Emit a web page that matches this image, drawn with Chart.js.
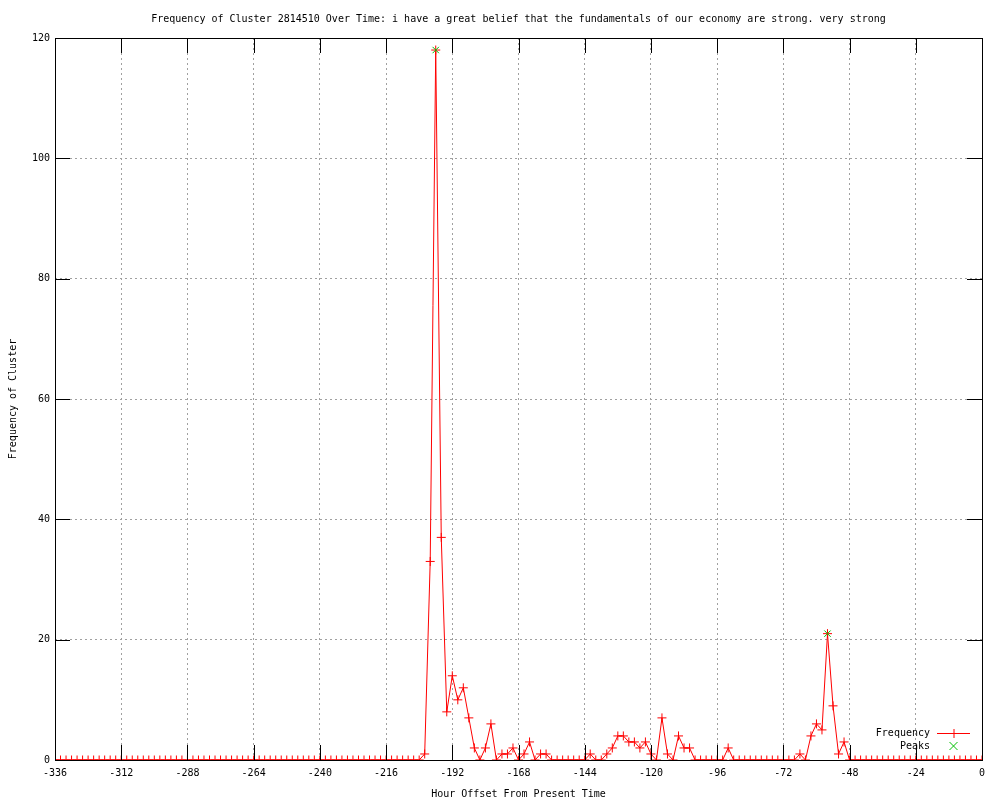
<!DOCTYPE html>
<html>
<head>
<meta charset="utf-8">
<script src="https://cdn.jsdelivr.net/npm/chart.js@4/dist/chart.umd.min.js"></script>
<style>
  html, body { margin: 0; padding: 0; background: #fff; }
  #wrap { width: 1000px; height: 800px; }
</style>
</head>
<body>
<div id="wrap"><canvas id="chart" width="1000" height="800"></canvas></div>
<script>
// hour offsets, one point every 2 hours
const hours = [
  -336, -334, -332, -330, -328, -326, -324, -322, -320, -318, -316, -314,
  -312, -310, -308, -306, -304, -302, -300, -298, -296, -294, -292, -290,
  -288, -286, -284, -282, -280, -278, -276, -274, -272, -270, -268, -266,
  -264, -262, -260, -258, -256, -254, -252, -250, -248, -246, -244, -242,
  -240, -238, -236, -234, -232, -230, -228, -226, -224, -222, -220, -218,
  -216, -214, -212, -210, -208, -206, -204, -202, -200, -198, -196, -194,
  -192, -190, -188, -186, -184, -182, -180, -178, -176, -174, -172, -170,
  -168, -166, -164, -162, -160, -158, -156, -154, -152, -150, -148, -146,
  -144, -142, -140, -138, -136, -134, -132, -130, -128, -126, -124, -122,
  -120, -118, -116, -114, -112, -110, -108, -106, -104, -102, -100, -98,
  -96, -94, -92, -90, -88, -86, -84, -82, -80, -78, -76, -74,
  -72, -70, -68, -66, -64, -62, -60, -58, -56, -54, -52, -50,
  -48, -46, -44, -42, -40, -38, -36, -34, -32, -30, -28, -26,
  -24, -22, -20, -18, -16, -14, -12, -10, -8, -6, -4, -2,
  0
];
const frequency = [
  0, 0, 0, 0, 0, 0, 0, 0, 0, 0, 0, 0,
  0, 0, 0, 0, 0, 0, 0, 0, 0, 0, 0, 0,
  0, 0, 0, 0, 0, 0, 0, 0, 0, 0, 0, 0,
  0, 0, 0, 0, 0, 0, 0, 0, 0, 0, 0, 0,
  0, 0, 0, 0, 0, 0, 0, 0, 0, 0, 0, 0,
  0, 0, 0, 0, 0, 0, 0, 1, 33, 118, 37, 8,
  14, 10, 12, 7, 2, 0, 2, 6, 0, 1, 1, 2,
  0, 1, 3, 0, 1, 1, 0, 0, 0, 0, 0, 0,
  0, 1, 0, 0, 1, 2, 4, 4, 3, 3, 2, 3,
  1, 0, 7, 1, 0, 4, 2, 2, 0, 0, 0, 0,
  0, 0, 2, 0, 0, 0, 0, 0, 0, 0, 0, 0,
  0, 0, 0, 1, 0, 4, 6, 5, 21, 9, 1, 3,
  0, 0, 0, 0, 0, 0, 0, 0, 0, 0, 0, 0,
  0, 0, 0, 0, 0, 0, 0, 0, 0, 0, 0, 0,
  0
];
const peakHours = [-198, -56];
const peakValues = [118, 21];

const xTicks = [-336, -312, -288, -264, -240, -216, -192, -168, -144, -120, -96, -72, -48, -24, 0];
const yTicks = [0, 20, 40, 60, 80, 100, 120];

const FONT = 'DejaVu Sans Mono';
const RED = '#ff0000';
const GREEN = '#00c000';

// gnuplot style frame: border box + inward mirror ticks
const frame = {
  id: 'frame',
  afterDatasetsDraw(chart) {
    const { ctx, chartArea: a, scales } = chart;
    const len = 15;
    ctx.save();
    ctx.strokeStyle = '#000';
    ctx.lineWidth = 1;
    ctx.beginPath();
    xTicks.forEach(v => {
      const px = Math.round(scales.x.getPixelForValue(v)) + 0.5;
      ctx.moveTo(px, a.bottom); ctx.lineTo(px, a.bottom - len);
      ctx.moveTo(px, a.top); ctx.lineTo(px, a.top + len);
    });
    yTicks.forEach(v => {
      const py = Math.round(scales.y.getPixelForValue(v)) + 0.5;
      ctx.moveTo(a.left, py); ctx.lineTo(a.left + len, py);
      ctx.moveTo(a.right, py); ctx.lineTo(a.right - len, py);
    });
    ctx.stroke();
    ctx.strokeRect(Math.round(a.left) + 0.5, Math.round(a.top) + 0.5,
      Math.round(a.right - a.left), Math.round(a.bottom - a.top));
    ctx.restore();
  }
};

// legend in the lower right corner, inside the plot
const keyBox = {
  id: 'keyBox',
  afterDraw(chart) {
    const { ctx, chartArea: a } = chart;
    const tx = a.right - 52, sx0 = a.right - 45, sx1 = a.right - 12;
    const y1 = a.bottom - 27, y2 = a.bottom - 14;
    const mid = (sx0 + sx1) / 2;
    ctx.save();
    ctx.font = '10px ' + FONT;
    ctx.fillStyle = '#000';
    ctx.textAlign = 'right';
    ctx.textBaseline = 'middle';
    ctx.fillText(chart.data.datasets[1].label, tx, y1);
    ctx.fillText(chart.data.datasets[0].label, tx, y2);
    ctx.lineWidth = 1;
    ctx.strokeStyle = RED;
    ctx.beginPath();
    ctx.moveTo(sx0, y1 + 0.5); ctx.lineTo(sx1, y1 + 0.5);
    ctx.moveTo(mid + 0.5, y1 - 4); ctx.lineTo(mid + 0.5, y1 + 5);
    ctx.stroke();
    ctx.strokeStyle = GREEN;
    ctx.beginPath();
    ctx.moveTo(mid - 4, y2 - 4); ctx.lineTo(mid + 4, y2 + 4);
    ctx.moveTo(mid + 4, y2 - 4); ctx.lineTo(mid - 4, y2 + 4);
    ctx.stroke();
    ctx.restore();
  }
};

Chart.defaults.font.family = FONT;
Chart.defaults.font.size = 10;
Chart.defaults.color = '#000';

new Chart(document.getElementById('chart'), {
  type: 'line',
  data: {
    datasets: [
      {
        label: 'Peaks',
        data: peakHours.map((h, i) => ({ x: h, y: peakValues[i] })),
        showLine: false,
        pointStyle: 'crossRot',
        pointRadius: 4.5,
        pointBorderWidth: 1,
        borderColor: GREEN,
        backgroundColor: GREEN
      },
      {
        label: 'Frequency',
        data: hours.map((h, i) => ({ x: h, y: frequency[i] })),
        borderColor: RED,
        backgroundColor: RED,
        borderWidth: 1,
        pointStyle: 'cross',
        pointRadius: 4.5,
        pointBorderWidth: 1,
        tension: 0
      }
    ]
  },
  options: {
    responsive: false,
    animation: false,
    layout: { padding: { left: 0, right: 18, top: 0, bottom: 0 } },
    plugins: {
      legend: { display: false },
      tooltip: { enabled: false },
      title: {
        display: true,
        fullSize: false,
        text: 'Frequency of Cluster 2814510 Over Time: i have a great belief that the fundamentals of our economy are strong. very strong',
        font: { family: FONT, size: 10, weight: 'normal' },
        color: '#000',
        padding: { top: 13, bottom: 13 }
      }
    },
    scales: {
      x: {
        type: 'linear',
        min: -336,
        max: 0,
        afterBuildTicks: s => { s.ticks = xTicks.map(v => ({ value: v })); },
        afterFit: s => { s.height = 40; },
        ticks: { padding: 7, autoSkip: false, maxRotation: 0 },
        grid: { color: '#a0a0a0', drawTicks: false },
        border: { display: false, dash: [2, 3] },
        title: {
          display: true,
          text: 'Hour Offset From Present Time',
          font: { family: FONT, size: 10 },
          padding: { top: 6, bottom: 0 }
        }
      },
      y: {
        min: 0,
        max: 120,
        afterBuildTicks: s => { s.ticks = yTicks.map(v => ({ value: v })); },
        afterFit: s => { s.width = 55; },
        ticks: { padding: 5 },
        grid: { color: '#a0a0a0', drawTicks: false },
        border: { display: false, dash: [2, 3] },
        title: {
          display: true,
          text: 'Frequency of Cluster',
          font: { family: FONT, size: 10 },
          padding: { top: 7, bottom: 0 }
        }
      }
    }
  },
  plugins: [frame, keyBox]
});
</script>
</body>
</html>
